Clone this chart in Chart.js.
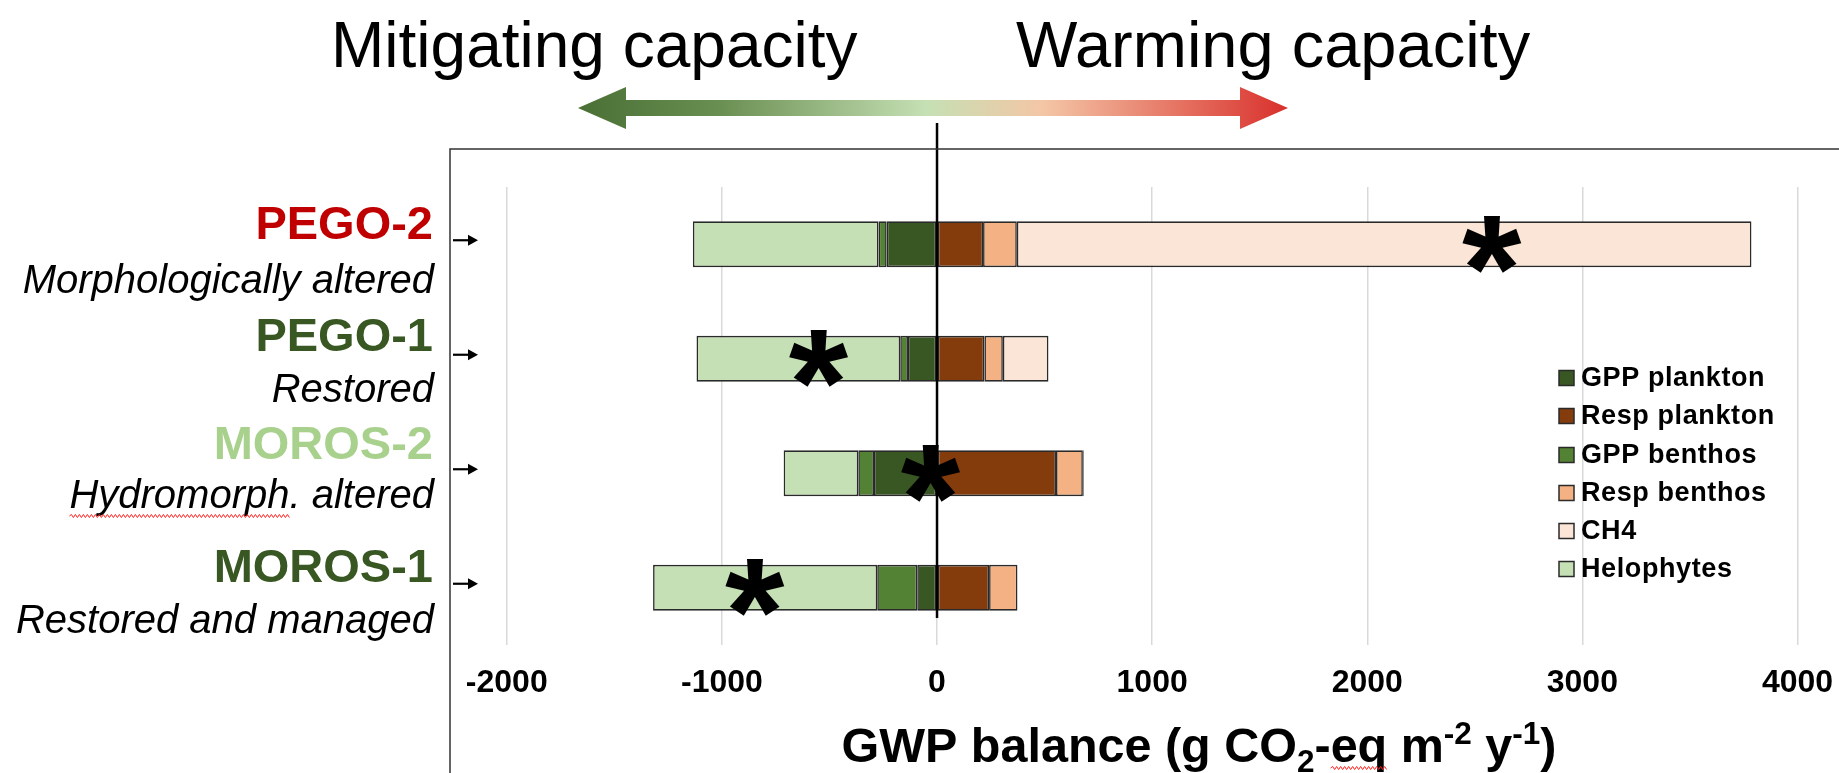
<!DOCTYPE html>
<html><head><meta charset="utf-8">
<script src="https://cdn.jsdelivr.net/npm/chart.js@4"></script>
<style>html,body{margin:0;padding:0;background:#fff}#wrap{width:1839px;height:773px;position:relative}</style>
</head><body><div id="wrap"><canvas id="c" width="1839" height="773"></canvas></div>
<script>
// ---- data ----
const sites = ['PEGO-2', 'PEGO-1', 'MOROS-2', 'MOROS-1'];
const siteStatus = ['Morphologically altered', 'Restored', 'Hydromorph. altered', 'Restored and managed'];
const seriesNames = ['GPP plankton', 'Resp plankton', 'GPP benthos', 'Resp benthos', 'CH4', 'Helophytes'];
const gppPlankton = [-234, -135, -293, -92];
const respPlankton = [214, 220, 553, 242];
const gppBenthos = [-38, -36, -73, -186];
const respBenthos = [157, 86, 125, 132];
const ch4 = [3415, 212, 4, 0];
const helophytes = [-863, -947, -347, -1042];
const asteriskAt = [2580, -550, -29, -846];
const xTickValues = [-2000, -1000, 0, 1000, 2000, 3000, 4000];
const topLeftText = 'Mitigating capacity';
const topRightText = 'Warming capacity';

// ---- styles ----
const colors = ['#385723', '#843c0c', '#548235', '#f4b183', '#fbe5d6', '#c5e0b4'];
const siteColors = ['#c00000', '#385723', '#a9d18e', '#385723'];
const FONT = '"Liberation Sans", Arial, sans-serif';

const seriesValues = [gppPlankton, respPlankton, gppBenthos, respBenthos, ch4, helophytes];
const datasets = seriesNames.map((n, i) => ({
  label: n,
  data: seriesValues[i],
  backgroundColor: colors[i],
  borderColor: '#2a2a2a',
  borderWidth: 1.6,
  borderSkipped: false,
  categoryPercentage: 1,
  barPercentage: 0.4
}));

function wavy(ctx, x1, x2, y) {
  ctx.save();
  ctx.strokeStyle = '#ff2020';
  ctx.lineWidth = 1;
  ctx.beginPath();
  let up = true;
  ctx.moveTo(x1, y);
  for (let x = x1 + 2; x <= x2; x += 2) { ctx.lineTo(x, y + (up ? -1.5 : 1.5)); up = !up; }
  ctx.stroke();
  ctx.restore();
}

const decor = {
  id: 'decor',
  beforeDraw(chart) {
    const ctx = chart.ctx;
    ctx.save(); ctx.fillStyle = '#fff'; ctx.fillRect(0, 0, chart.width, chart.height); ctx.restore();
  },
  afterDatasetsDraw(chart) {
    const ctx = chart.ctx;
    const xs = chart.scales.x, ys = chart.scales.y;
    // zero line
    const x0 = xs.getPixelForValue(0);
    ctx.save();
    ctx.strokeStyle = '#000'; ctx.lineWidth = 2.5;
    ctx.beginPath(); ctx.moveTo(x0, 123); ctx.lineTo(x0, 618); ctx.stroke();
    ctx.restore();
    // asterisks
    ctx.save();
    ctx.fillStyle = '#000';
    ctx.textAlign = 'left'; ctx.textBaseline = 'alphabetic';
    ctx.font = 'bold 100px ' + FONT;
    let m = ctx.measureText('*');
    const h0 = m.actualBoundingBoxAscent + m.actualBoundingBoxDescent;
    const size = 100 * 58 / h0;
    ctx.font = 'bold ' + size + 'px ' + FONT;
    m = ctx.measureText('*');
    asteriskAt.forEach((v, i) => {
      const xc = xs.getPixelForValue(v);
      const yc = ys.getPixelForValue(i);
      const x = xc - (m.actualBoundingBoxRight - m.actualBoundingBoxLeft) / 2;
      const y = yc - (m.actualBoundingBoxDescent - m.actualBoundingBoxAscent) / 2;
      ctx.fillText('*', x, y);
    });
    ctx.restore();
  },
  afterDraw(chart) {
    const ctx = chart.ctx;
    const ys = chart.scales.y;
    ctx.save();
    // outer border (left + top)
    ctx.strokeStyle = '#333'; ctx.lineWidth = 1.5;
    ctx.beginPath(); ctx.moveTo(450, 773); ctx.lineTo(450, 149); ctx.lineTo(1839, 149); ctx.stroke();

    // site labels
    const nameBase = [239, 351, 459, 582];
    const statBase = [293, 402, 508, 633];
    ctx.textAlign = 'right'; ctx.textBaseline = 'alphabetic';
    sites.forEach((s, i) => {
      ctx.fillStyle = siteColors[i];
      ctx.font = 'bold 47px ' + FONT;
      ctx.fillText(s, 433, nameBase[i]);
      ctx.fillStyle = '#000';
      ctx.font = 'italic 40px ' + FONT;
      ctx.fillText(siteStatus[i], 434, statBase[i]);
    });
    // spell-check squiggle under "Hydromorph"
    ctx.font = 'italic 40px ' + FONT;
    const fullW = ctx.measureText(siteStatus[2]).width;
    const hw = ctx.measureText('Hydromorph').width;
    wavy(ctx, 434 - fullW, 434 - fullW + hw, statBase[2] + 8);

    // small arrows
    ctx.strokeStyle = '#000'; ctx.fillStyle = '#000'; ctx.lineWidth = 2.2;
    sites.forEach((s, i) => {
      const y = ys.getPixelForValue(i) - 4;
      ctx.beginPath(); ctx.moveTo(453, y); ctx.lineTo(470, y); ctx.stroke();
      ctx.beginPath(); ctx.moveTo(478, y); ctx.lineTo(468, y - 5.5); ctx.lineTo(468, y + 5.5); ctx.closePath(); ctx.fill();
    });

    // top texts
    ctx.textAlign = 'left';
    ctx.fillStyle = '#000';
    ctx.font = '64px ' + FONT;
    ctx.fillText(topLeftText, 331, 67);
    ctx.font = '65px ' + FONT;
    ctx.fillText(topRightText, 1016, 67);

    // gradient double arrow
    const ax1 = 578, ax2 = 1288, ay = 108, hl = 48, hh = 21, sh = 8;
    const g = ctx.createLinearGradient(ax1, 0, ax2, 0);
    g.addColorStop(0, '#4a6f35');
    g.addColorStop(0.2, '#6a8f52');
    g.addColorStop(0.49, '#c5e0b4');
    g.addColorStop(0.655, '#f4c6a6');
    g.addColorStop(1, '#d9302c');
    ctx.fillStyle = g;
    ctx.beginPath();
    ctx.moveTo(ax1, ay);
    ctx.lineTo(ax1 + hl, ay - hh);
    ctx.lineTo(ax1 + hl, ay - sh);
    ctx.lineTo(ax2 - hl, ay - sh);
    ctx.lineTo(ax2 - hl, ay - hh);
    ctx.lineTo(ax2, ay);
    ctx.lineTo(ax2 - hl, ay + hh);
    ctx.lineTo(ax2 - hl, ay + sh);
    ctx.lineTo(ax1 + hl, ay + sh);
    ctx.lineTo(ax1 + hl, ay + hh);
    ctx.closePath();
    ctx.fill();

    // legend
    const legY = [378, 416, 455, 493, 531, 569];
    ctx.textBaseline = 'middle';
    ctx.font = 'bold 27px ' + FONT;
    try { ctx.letterSpacing = '0.6px'; } catch (e) {}
    chart.data.datasets.forEach((d, i) => {
      ctx.fillStyle = d.backgroundColor;
      ctx.fillRect(1559, legY[i] - 7.5, 15, 15);
      ctx.strokeStyle = '#2a2a2a'; ctx.lineWidth = 1.5;
      ctx.strokeRect(1559, legY[i] - 7.5, 15, 15);
      ctx.fillStyle = '#000';
      ctx.fillText(d.label, 1581, legY[i] + 1);
    });
    try { ctx.letterSpacing = '0px'; } catch (e) {}

    // axis title with sub/superscripts
    const runs = [
      { t: 'GWP balance (g CO', s: 1, dy: 0 },
      { t: '2', s: 0.65, dy: 10 },
      { t: '-eq m', s: 1, dy: 0 },
      { t: '-2', s: 0.65, dy: -18 },
      { t: ' y', s: 1, dy: 0 },
      { t: '-1', s: 0.65, dy: -18 },
      { t: ')', s: 1, dy: 0 }
    ];
    const base = 48.5, tb = 762;
    ctx.textBaseline = 'alphabetic';
    let total = 0;
    runs.forEach(r => { ctx.font = 'bold ' + (base * r.s) + 'px ' + FONT; r.w = ctx.measureText(r.t).width; total += r.w; });
    let x = 1199 - total / 2;
    let eqStart = 0, eqEnd = 0;
    runs.forEach(r => {
      ctx.font = 'bold ' + (base * r.s) + 'px ' + FONT;
      ctx.fillStyle = '#000';
      ctx.fillText(r.t, x, tb + r.dy);
      if (r.t === '-eq m') {
        const dw = ctx.measureText('-').width;
        const ew = ctx.measureText('-eq').width;
        eqStart = x + dw; eqEnd = x + ew;
      }
      x += r.w;
    });
    wavy(ctx, eqStart, eqEnd, tb + 6);
    ctx.restore();
  }
};

new Chart(document.getElementById('c'), {
  type: 'bar',
  data: { labels: sites, datasets },
  options: {
    indexAxis: 'y',
    responsive: false,
    animation: false,
    devicePixelRatio: 1,
    layout: { padding: { left: 450, top: 187, right: 0, bottom: 0 } },
    plugins: { legend: { display: false }, tooltip: { enabled: false } },
    scales: {
      x: {
        stacked: true,
        min: -2264,
        max: 4193,
        afterFit(scale) { scale.height = 128; scale.paddingLeft = 0; scale.paddingRight = 0; },
        afterBuildTicks(scale) { scale.ticks = xTickValues.map(v => ({ value: v })); },
        border: { display: false },
        grid: { color: '#d9d9d9', lineWidth: 1.5, drawTicks: true, tickLength: 19, tickColor: 'rgba(0,0,0,0)' },
        ticks: {
          padding: 0,
          color: '#000',
          font: { family: FONT, size: 32, weight: 'bold' },
          callback: v => String(v)
        }
      },
      y: { stacked: true, display: false }
    }
  },
  plugins: [decor]
});
</script>
</body></html>
